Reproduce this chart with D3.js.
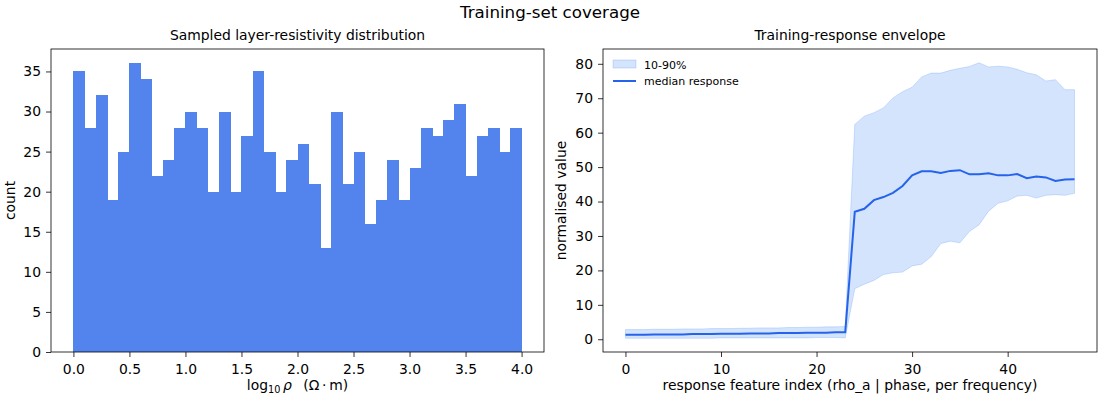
<!DOCTYPE html>
<html>
<head>
<meta charset="utf-8">
<script src="https://cdn.jsdelivr.net/npm/d3@7"></script>
<style>
  body { margin: 0; background: #fff; }
  svg { font-family: "DejaVu Sans", sans-serif; }
</style>
</head>
<body>
<svg width="1100" height="400"></svg>
<script>
// histogram: 40 bins of width 0.1 over log10(rho) in [0, 4]
var binStarts = d3.range(0, 40).map(function(i) { return i / 10; });
var binCounts = [35, 28, 32, 19, 25, 36, 34, 22, 24, 28,
                 30, 28, 20, 30, 20, 27, 35, 25, 20, 24,
                 26, 21, 13, 30, 21, 25, 16, 19, 24, 19,
                 23, 28, 27, 29, 31, 22, 27, 28, 25, 28];
var histTicks = [0, 0.5, 1, 1.5, 2, 2.5, 3, 3.5, 4];
var countTicks = [0, 5, 10, 15, 20, 25, 30, 35];

// response envelope, feature index 0..47
var featIndex = d3.range(0, 48);
var medianResp = [1.3, 1.3, 1.3, 1.4, 1.4, 1.4, 1.4, 1.5, 1.5, 1.5, 1.6, 1.6,
                  1.6, 1.7, 1.7, 1.7, 1.8, 1.8, 1.8, 1.9, 1.9, 1.9, 2.0, 2.0,
                  37.0, 37.9, 40.4, 41.3, 42.5, 44.5, 47.6, 48.8, 48.8, 48.3, 48.9, 49.1,
                  47.9, 47.9, 48.2, 47.6, 47.6, 48.0, 46.8, 47.3, 47.0, 46.0, 46.4, 46.5];
var upperResp = [2.8, 2.8, 2.8, 2.9, 2.9, 2.9, 3.0, 3.0, 3.0, 3.1, 3.1, 3.1,
                 3.2, 3.2, 3.3, 3.3, 3.3, 3.4, 3.4, 3.5, 3.5, 3.6, 3.6, 3.7,
                 62.4, 64.8, 65.8, 67.2, 70.1, 71.9, 73.2, 76.2, 77.3, 77.3, 78.1, 78.7,
                 79.2, 80.3, 79.1, 79.3, 79.1, 78.4, 77.4, 76.8, 75.0, 75.4, 72.5, 72.5];
var lowerResp = [0.3, 0.3, 0.3, 0.3, 0.3, 0.3, 0.3, 0.3, 0.3, 0.3, 0.4, 0.4,
                 0.4, 0.4, 0.4, 0.4, 0.4, 0.4, 0.4, 0.4, 0.5, 0.5, 0.5, 0.4,
                 14.7, 16.0, 17.1, 18.8, 19.3, 19.5, 21.3, 21.8, 24.0, 27.8, 28.5, 28.0,
                 31.3, 33.2, 37.2, 39.5, 40.2, 41.6, 41.8, 41.0, 41.8, 42.0, 41.8, 42.4];
var featTicks = [0, 10, 20, 30, 40];
var respTicks = [0, 10, 20, 30, 40, 50, 60, 70, 80];

var svg = d3.select("svg");
var barColor = "#5383ec", lineColor = "#2563eb", bandColor = "#3b82f6";
var labelSize = "13.9px", tickSize = "13.9px";

svg.append("text")
    .attr("x", 550).attr("y", 18)
    .attr("text-anchor", "middle")
    .style("font-size", "16.7px")
    .text("Training-set coverage");

// ---- left panel: histogram ----
var L = {x0: 51, x1: 544, y0: 49, y1: 352};
var xh = d3.scaleLinear().domain([-0.2, 4.2]).range([L.x0, L.x1]);
var yh = d3.scaleLinear().domain([0, d3.max(binCounts) * 1.05]).range([L.y1, L.y0]);

var gl = svg.append("g");
gl.selectAll("rect.bar")
    .data(binCounts)
    .enter().append("rect")
    .attr("class", "bar")
    .attr("x", function(d, i) { return xh(binStarts[i]); })
    .attr("width", function(d, i) { return xh(binStarts[i] + 0.1) - xh(binStarts[i]) + 0.6; })
    .attr("y", function(d) { return yh(d); })
    .attr("height", function(d) { return yh(0) - yh(d); })
    .attr("fill", barColor)
    .attr("shape-rendering", "crispEdges");

function styleAxis(sel) {
  sel.selectAll(".domain").remove();
  sel.selectAll(".tick line").attr("stroke", "#000").attr("stroke-width", 0.8);
  sel.selectAll(".tick text").attr("fill", "#000").style("font-size", tickSize)
     .style("font-family", "DejaVu Sans, sans-serif");
}

gl.append("g").attr("transform", "translate(0," + L.y1 + ")")
    .call(d3.axisBottom(xh).tickValues(histTicks).tickFormat(d3.format(".1f")).tickSize(5).tickPadding(7))
    .call(styleAxis);
gl.append("g").attr("transform", "translate(" + L.x0 + ",0)")
    .call(d3.axisLeft(yh).tickValues(countTicks).tickSize(5).tickPadding(5))
    .call(styleAxis);
gl.append("rect")
    .attr("x", L.x0).attr("y", L.y0).attr("width", L.x1 - L.x0).attr("height", L.y1 - L.y0)
    .attr("fill", "none").attr("stroke", "#000").attr("stroke-width", 0.8);

gl.append("text")
    .attr("x", (L.x0 + L.x1) / 2).attr("y", 40)
    .attr("text-anchor", "middle").style("font-size", labelSize)
    .text("Sampled layer-resistivity distribution");

var xlab = gl.append("text")
    .attr("x", (L.x0 + L.x1) / 2).attr("y", 390)
    .attr("text-anchor", "middle").style("font-size", labelSize);
xlab.append("tspan").text("log");
xlab.append("tspan").attr("dy", 3).style("font-size", "9.7px").text("10");
xlab.append("tspan").attr("dy", -3).style("font-style", "italic").text("\u2009\u03c1");
xlab.append("tspan").text("\u2002 (\u03a9\u2009\u00b7\u2009m)");

gl.append("text")
    .attr("transform", "translate(15," + (L.y0 + L.y1) / 2 + ") rotate(-90)")
    .attr("text-anchor", "middle").style("font-size", labelSize)
    .text("count");

// ---- right panel: envelope ----
var R = {x0: 603, x1: 1097, y0: 49, y1: 352};
var xr = d3.scaleLinear().domain([-2.35, 49.35]).range([R.x0, R.x1]);
var lo = d3.min(lowerResp), hi = d3.max(upperResp), pad = (hi - lo) * 0.05;
var yr = d3.scaleLinear().domain([lo - pad, hi + pad]).range([R.y1, R.y0]);

var gr = svg.append("g");
var band = d3.area()
    .x(function(d, i) { return xr(featIndex[i]); })
    .y0(function(d, i) { return yr(lowerResp[i]); })
    .y1(function(d, i) { return yr(upperResp[i]); });
gr.append("path")
    .datum(featIndex)
    .attr("d", band)
    .attr("fill", bandColor).attr("fill-opacity", 0.22)
    .attr("stroke", bandColor).attr("stroke-opacity", 0.22).attr("stroke-width", 1);

var medLine = d3.line()
    .x(function(d, i) { return xr(featIndex[i]); })
    .y(function(d) { return yr(d); });
gr.append("path")
    .datum(medianResp)
    .attr("d", medLine)
    .attr("fill", "none").attr("stroke", lineColor).attr("stroke-width", 2);

gr.append("g").attr("transform", "translate(0," + R.y1 + ")")
    .call(d3.axisBottom(xr).tickValues(featTicks).tickSize(5).tickPadding(7))
    .call(styleAxis);
gr.append("g").attr("transform", "translate(" + R.x0 + ",0)")
    .call(d3.axisLeft(yr).tickValues(respTicks).tickSize(5).tickPadding(5))
    .call(styleAxis);
gr.append("rect")
    .attr("x", R.x0).attr("y", R.y0).attr("width", R.x1 - R.x0).attr("height", R.y1 - R.y0)
    .attr("fill", "none").attr("stroke", "#000").attr("stroke-width", 0.8);

gr.append("text")
    .attr("x", (R.x0 + R.x1) / 2).attr("y", 40)
    .attr("text-anchor", "middle").style("font-size", labelSize)
    .text("Training-response envelope");
gr.append("text")
    .attr("x", (R.x0 + R.x1) / 2).attr("y", 390)
    .attr("text-anchor", "middle").style("font-size", labelSize)
    .text("response feature index (rho_a | phase, per frequency)");
gr.append("text")
    .attr("transform", "translate(566," + (R.y0 + R.y1) / 2 + ") rotate(-90)")
    .attr("text-anchor", "middle").style("font-size", labelSize)
    .text("normalised value");

// legend
var lg = gr.append("g").attr("transform", "translate(613,60)");
lg.append("rect").attr("x", 0).attr("y", 0).attr("width", 23).attr("height", 8)
    .attr("fill", bandColor).attr("fill-opacity", 0.22)
    .attr("stroke", bandColor).attr("stroke-opacity", 0.22);
lg.append("text").attr("x", 31).attr("y", 8.5).style("font-size", "11px").text("10-90%");
lg.append("line").attr("x1", 0).attr("x2", 23).attr("y1", 21).attr("y2", 21)
    .attr("stroke", lineColor).attr("stroke-width", 2);
lg.append("text").attr("x", 31).attr("y", 25).style("font-size", "11px").text("median response");
</script>
</body>
</html>
